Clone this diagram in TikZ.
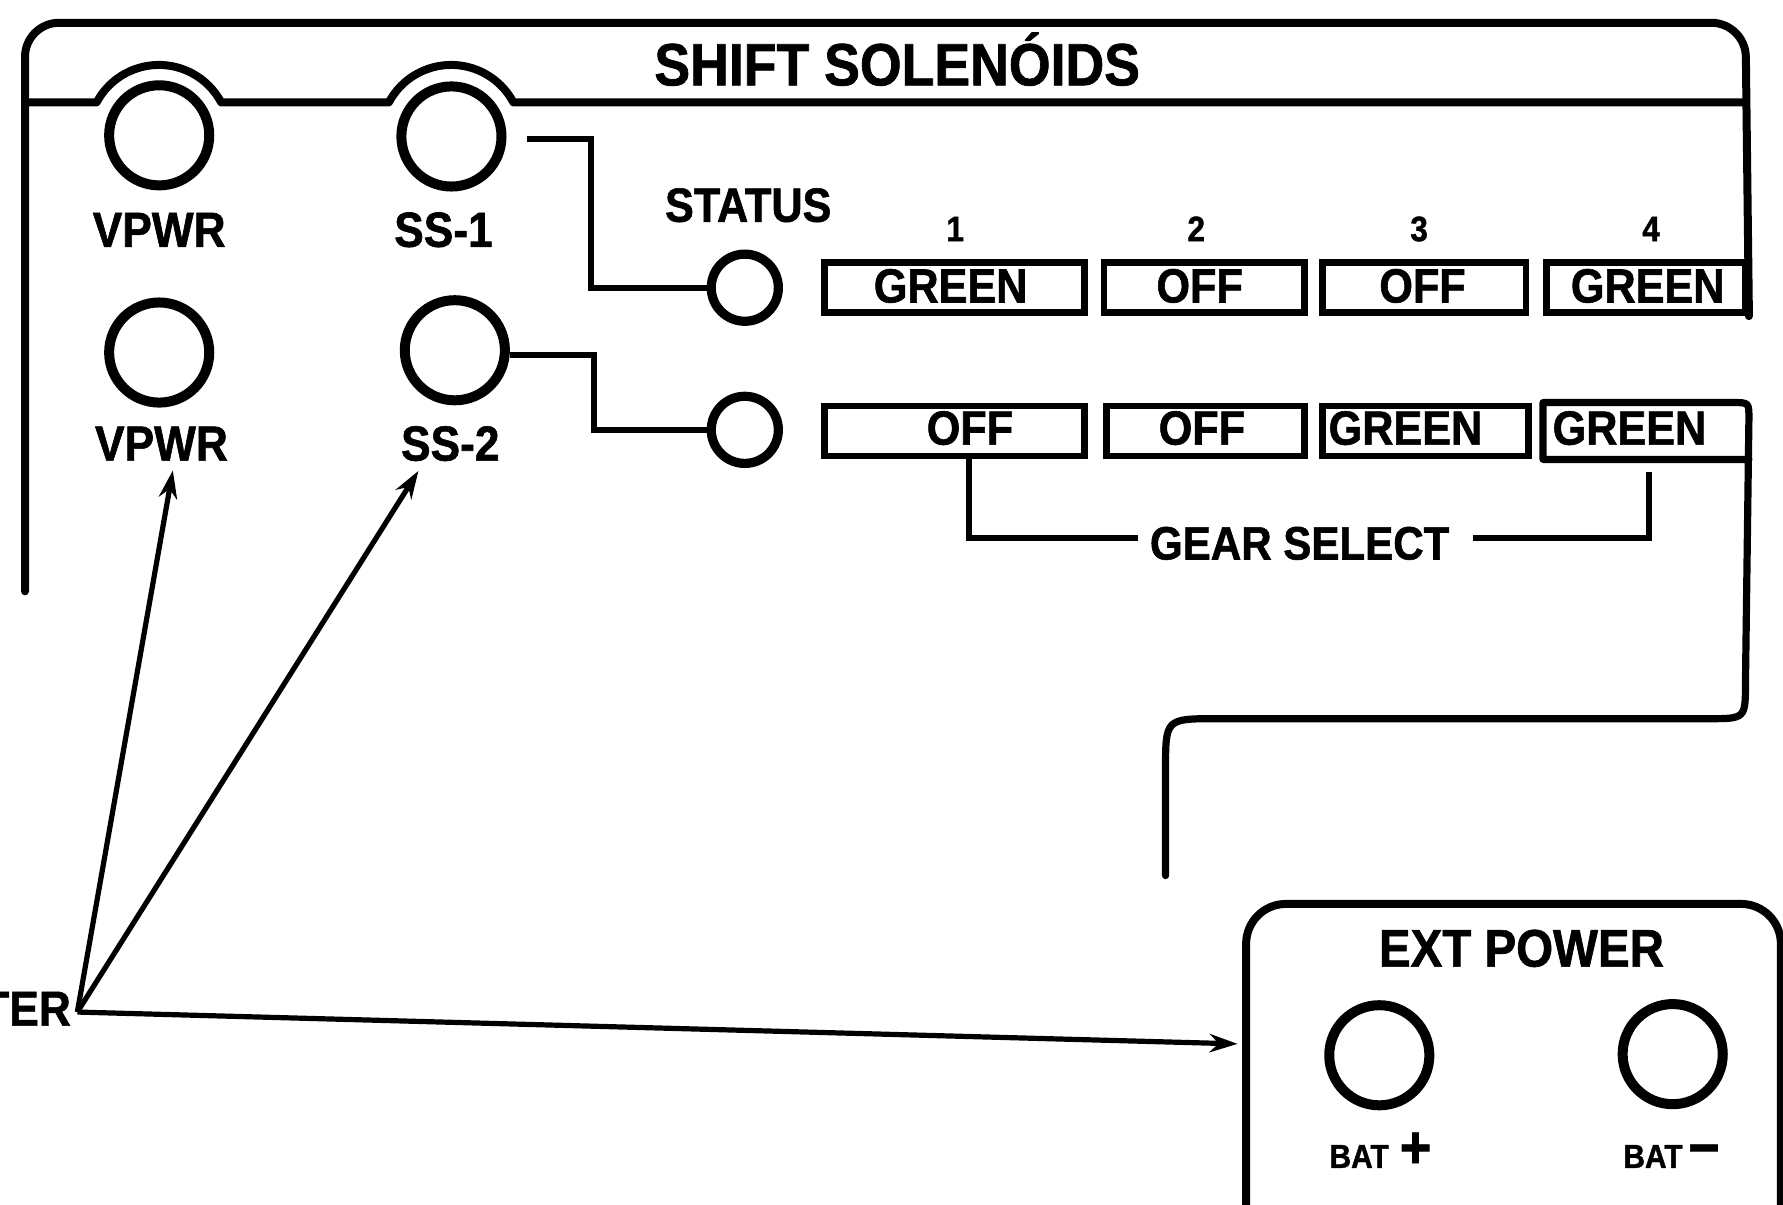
\documentclass[tikz,border=0pt]{standalone}
\usepackage{fontspec}
\setmainfont{Liberation Sans}
\newfontfamily\hv{Liberation Sans Bold}[FakeStretch=0.9, FakeBold=1.2]
\usetikzlibrary{arrows.meta,calc}
\begin{document}
\begin{tikzpicture}[x=0.01cm,y=-0.01cm,
  panel/.style={line width=2pt, line join=round, line cap=round},
  jack/.style={circle, draw, line width=2.5pt, minimum size=0.88cm, inner sep=0pt},
  sjack/.style={circle, draw, line width=2.3pt, minimum size=0.59cm, inner sep=0pt},
  gbox/.style={draw, line width=1.7pt, minimum height=0.44cm, inner sep=0pt},
  wire/.style={line width=1.5pt, line join=miter},
  ptr/.style={line width=1.3pt, -{Stealth[length=7pt,width=4.6pt]}},
  lbl/.style={font=\hv\fontsize{12.3}{13}\selectfont, inner sep=0pt, anchor=base},
  boxtxt/.style={font=\hv\fontsize{12}{13}\selectfont, inner sep=0pt, anchor=base},
  numtxt/.style={font=\hv\fontsize{8.8}{9}\selectfont, inner sep=0pt, anchor=base},
  battxt/.style={font=\hv\fontsize{8.3}{9}\selectfont, inner sep=0pt, anchor=base}]
\fill[white] (0,0) rectangle (1568,1059);
\useasboundingbox (0,0) rectangle (1568,1059);

% gear boxes, row 1
\node[gbox, minimum width=2.29cm] (b11) at (839.5,253) {};
\node[gbox, minimum width=1.76cm] (b12) at (1059,253) {};
\node[gbox, minimum width=1.79cm] (b13) at (1252.5,253) {};
\node[gbox, minimum width=1.75cm] (b14) at (1447.5,253) {};

% main panel outline
\draw[panel, rounded corners=0.3cm] (22,520) -- (22,20) -- (1535,20) -- (b14.south east);
% header divider with bumps
\draw[panel] (22,90) -- (85,90) arc[start angle=-152,end angle=-28,radius=62]
  -- (342,90) arc[start angle=-152,end angle=-28,radius=62] -- (1535,90);
\node[font=\hv\fontsize{14.9}{15}\selectfont, inner sep=0pt, anchor=base] (title) at (789,75) {SHIFT SOLENÓIDS};

% jacks
\node[jack] (vpwrA) at (140,119) {};
\node[jack] (ss1) at (397,120) {};
\node[jack] (vpwrB) at (140,310) {};
\node[jack] (ss2) at (400,308) {};
\node[lbl] (vpwrAl) at (140,217) {VPWR};
\node[lbl] (ss1l) at (390,217) {SS-1};
\node[lbl] (vpwrBl) at (142,405) {VPWR};
\node[lbl] (ss2l) at (396,405) {SS-2};

% status
\node[lbl, font=\hv\fontsize{12}{13}\selectfont] (status) at (658,195) {STATUS};
\node[sjack] (st1) at (655,253) {};
\node[sjack] (st2) at (655,378) {};
\draw[wire] ($(ss1.east)+(18,2)$) -- ++(56,0) |- (st1.west);
\draw[wire] ($(ss2.east)+(0,4)$) -- ++(74,0) |- (st2.west);

% gear numbers
\node[numtxt] (n1) at (840,212) {1};
\node[numtxt] (n2) at (1052,212) {2};
\node[numtxt] (n3) at (1248,212) {3};
\node[numtxt] (n4) at (1452,212) {4};

\node[boxtxt] (t11) at (836,266) {GREEN};
\node[boxtxt] (t12) at (1055,266) {OFF};
\node[boxtxt] (t13) at (1251,266) {OFF};
\node[boxtxt] (t14) at (1449,266) {GREEN};

% row 2 boxes
\node[gbox, minimum width=2.29cm] (b21) at (839.5,379) {};
\node[gbox, minimum width=1.74cm] (b22) at (1060,379) {};
\node[gbox, minimum width=1.81cm] (b23) at (1253.5,379) {};
\node[gbox, draw=none, minimum width=1.75cm] (b24) at (1447.5,379) {};
\node[boxtxt] (t21) at (853,391) {OFF};
\node[boxtxt] (t22) at (1057,391) {OFF};
\node[boxtxt] (t23) at (1236,391) {GREEN};
\node[boxtxt] (t24) at (1433,391) {GREEN};

% row 2 box 4 outline, its right side running on as the cable
\draw[line width=1.8pt, line join=round, line cap=round]
  (b24.south east) -- (b24.south west) -- (b24.north west)
  -- ($(b24.north east)+(-14,0)$) .. controls (b24.north east) .. ($(b24.north east)+(0,14)$)
  -- (1535,600) .. controls (1535,632) .. (1503,632)
  -- (1070,632) .. controls (1025,632) .. (1025,677) -- (1025,770);

% gear select bracket
\node[font=\hv\fontsize{11.7}{12}\selectfont, inner ysep=0pt, inner xsep=0.1cm, anchor=base] (gear) at (1143,492) {GEAR SELECT};
\draw[wire] ($(b21.south)+(13,0)$) |- ($(gear.west)+(0,-5)$);
\draw[wire] ($(gear.east)+(10,-5)$) -| ($(b24.south)+(3,11)$);

% external power box
\node[draw, line width=2pt, rounded corners=0.35cm, minimum width=4.7cm, minimum height=3cm, inner sep=0pt] (ext) at (1331,945) {};
\node[font=\hv\fontsize{13.2}{14}\selectfont, inner sep=0pt, anchor=base] (extt) at (1338,850) {EXT POWER};
\node[jack] (batp) at (1213,928) {};
\node[jack] (batm) at (1471,927) {};
\node[battxt] (batpl) at (1214,1027) {BAT\,\,{\fontsize{15}{15}\selectfont +}};
\node[battxt] (batml) at (1470,1027) {BAT\,{\fontsize{15}{15}\selectfont −}};

% tester pointers
\coordinate (hub) at (68,890);
\node[lbl, anchor=base east] (tester) at (63,902) {TER};
\draw[ptr] (hub) -- ($(vpwrBl.south)+(10,8)$);
\draw[ptr] (hub) -- ($(ss2l.south)+(-28,8)$);
\draw[ptr] (hub) -- ($(ext.west)+(-4,-27)$);
\end{tikzpicture}
\end{document}
